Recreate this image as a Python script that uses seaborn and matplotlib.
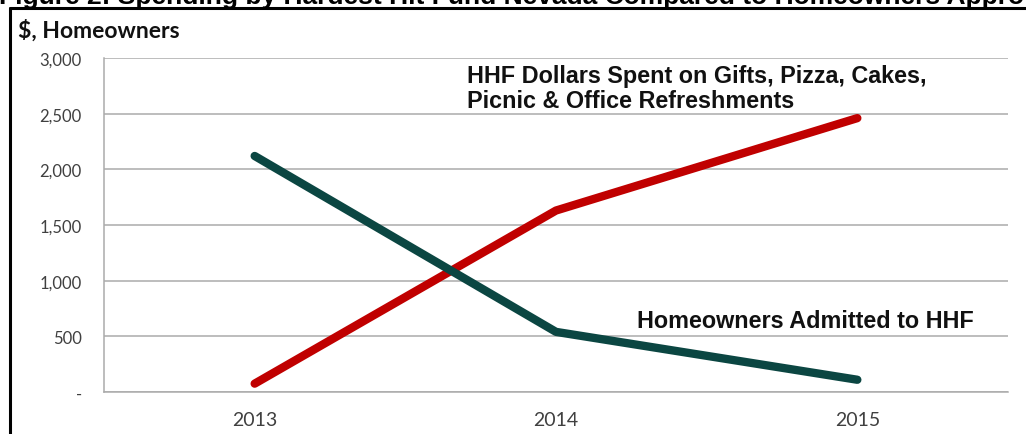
import matplotlib
matplotlib.use("Agg")
import matplotlib.pyplot as plt
import seaborn as sns
import pandas as pd
from matplotlib.ticker import FuncFormatter
from matplotlib.lines import Line2D

years = ["2013", "2014", "2015"]
hhf_dollars = [75, 1630, 2460]
homeowners = [2120, 540, 110]
series_names = ["HHF Dollars Spent on Gifts, Pizza, Cakes,\nPicnic & Office Refreshments",
                "Homeowners Admitted to HHF"]
y_ticks = [0, 500, 1000, 1500, 2000, 2500, 3000]
title = "Figure 2: Spending by Hardest Hit Fund Nevada Compared to Homeowners Approved"

df = pd.DataFrame({
    "year": years * 2,
    "value": hhf_dollars + homeowners,
    "series": [series_names[0]] * 3 + [series_names[1]] * 3,
})

sns.set_style("white")
plt.rcParams["font.family"] = ["Lato", "DejaVu Sans"]

fig = plt.figure(figsize=(10.26, 4.35), dpi=100)
ax = fig.add_axes([104 / 1026, 42 / 435, 904 / 1026, 334 / 435])

sns.lineplot(data=df, x="year", y="value", hue="series",
             palette=["#C00000", "#0B4642"], linewidth=6,
             solid_capstyle="round", legend=False, ax=ax, sort=False)

ax.set_xlim(-0.5, 2.5)
ax.set_ylim(0, 3000)
ax.set_yticks(y_ticks)
ax.yaxis.set_major_formatter(FuncFormatter(lambda v, p: "-" if v == 0 else f"{int(v):,}"))
ax.grid(axis="y", color="#ABABAB", linewidth=1.1)
ax.grid(axis="x", visible=False)
ax.set_axisbelow(True)
ax.set_xlabel("")
ax.set_ylabel("")
for s in ["top", "right"]:
    ax.spines[s].set_visible(False)
for s in ["left", "bottom"]:
    ax.spines[s].set_color("#ABABAB")
    ax.spines[s].set_linewidth(1.1)
ax.tick_params(axis="y", length=0, labelsize=12, labelcolor="#404040", pad=16)
ax.tick_params(axis="x", length=0, labelsize=14, labelcolor="#404040", pad=14)

# annotations
fig.text(467 / 1026, 1 - 89 / 435, series_names[0], fontsize=16.8, fontweight="bold",
         family=["Liberation Sans", "DejaVu Sans"], va="center", ha="left",
         linespacing=1.1, color="#111111")
fig.text(637 / 1026, 1 - 322 / 435, series_names[1], fontsize=16.8, fontweight="bold",
         family=["Liberation Sans", "DejaVu Sans"], va="center", ha="left", color="#111111")
fig.text(18 / 1026, 1 - 31 / 435, "$, Homeowners", fontsize=16.5, fontweight="bold",
         va="center", ha="left", color="#111111")

# cut-off title and frame
fig.text(-1 / 1026, 1 - 4 / 435, title, fontsize=19, fontweight="bold",
         family=["Liberation Sans", "DejaVu Sans"], va="baseline", ha="left", color="black")
fig.add_artist(Line2D([10 / 1026, 1], [1 - 8.5 / 435, 1 - 8.5 / 435], color="black", linewidth=2.2,
                      transform=fig.transFigure))
fig.add_artist(Line2D([10 / 1026, 10 / 1026], [0, 1 - 8.5 / 435], color="black", linewidth=2.2,
                      transform=fig.transFigure))

fig.savefig("out.png", dpi=100)
